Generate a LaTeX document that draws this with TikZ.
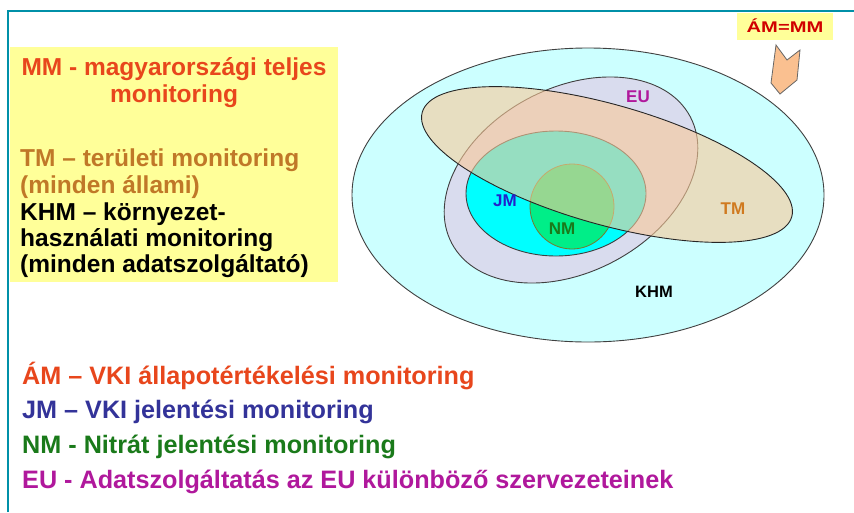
\documentclass[tikz,border=0pt]{standalone}
\usepackage{fontspec}
\setmainfont{Liberation Sans}
\usepackage{graphicx}
\definecolor{frameteal}{HTML}{0090A8}
\definecolor{paleyellow}{HTML}{FFFF99}
\definecolor{mmred}{HTML}{E8461C}
\definecolor{tmbrown}{HTML}{C07828}
\definecolor{jmblue}{HTML}{333399}
\definecolor{nmgreen}{HTML}{1A7A1A}
\definecolor{eupurple}{HTML}{B0189C}
\definecolor{khmfill}{HTML}{CCFFFF}
\definecolor{eufill}{HTML}{D9DCEE}
\definecolor{jmfill}{HTML}{00FFFF}
\definecolor{nmfill}{HTML}{00EE88}
\definecolor{tmfill}{RGB}{250,201,152}
\definecolor{outline}{HTML}{404040}
\definecolor{arrowfill}{HTML}{FAC090}
\definecolor{amred}{HTML}{D00000}
\definecolor{jmlabel}{HTML}{2222CC}
\definecolor{tmlabel}{HTML}{D07A20}
\tikzset{
  bigtext/.style={font=\fontsize{24.5}{27}\selectfont\bfseries, inner sep=0pt},
  bottomtext/.style={font=\fontsize{25.2}{27}\selectfont\bfseries, inner sep=0pt, anchor=base west},
  lbl/.style={font=\fontsize{17}{17}\selectfont\bfseries, inner sep=0pt},
  setshape/.style={draw=outline, line width=0.9pt},
}
\begin{document}
\begin{tikzpicture}[x=1pt,y=-1pt]
\useasboundingbox (0,0) rectangle (854,512);
\fill[white] (0,0) rectangle (854,512);
% frame
\draw[frameteal, line width=2.2pt] (8,512) -- (8,11) -- (854,11);
% left yellow box
\node[fill=paleyellow, minimum width=328pt, minimum height=235pt, anchor=north west, inner sep=0pt] (legendbox) at (10,47) {};
\node[bigtext, text=mmred, anchor=base] (mm1) at (174,75) {MM - magyarországi teljes};
\node[bigtext, text=mmred, anchor=base] (mm2) at (174,102) {monitoring};
\node[bigtext, text=tmbrown, anchor=base west] (tm1) at (20,166) {TM – területi monitoring};
\node[bigtext, text=tmbrown, anchor=base west] (tm2) at (20,193) {(minden állami)};
\node[bigtext, text=black, anchor=base west] (khm1) at (20,220) {KHM – környezet-};
\node[bigtext, text=black, anchor=base west] (khm2) at (20,246) {használati monitoring};
\node[bigtext, text=black, anchor=base west] (khm3) at (20,272) {(minden adatszolgáltató)};
% sets
\draw[setshape, fill=khmfill] (588,195) ellipse [x radius=236pt, y radius=147pt];
\draw[setshape, fill=eufill, rotate around={28:(571,180)}] (571,180) ellipse [x radius=135pt, y radius=92pt];
\draw[setshape, fill=jmfill] (556,193.5) ellipse [x radius=90pt, y radius=62.5pt];
\draw[draw=outline!70!yellow, line width=0.8pt, fill=nmfill] (572,206.5) ellipse [x radius=42pt, y radius=42.5pt];
\draw[setshape, draw=black!85, fill=tmfill, fill opacity=0.6, rotate around={-15.8:(607,164.5)}] (607,164.5) ellipse [x radius=192pt, y radius=60pt];
% labels
\node[lbl, text=eupurple] (eulbl) at (638,97) {EU};
\node[lbl, text=jmlabel] (jmlbl) at (505,201) {JM};
\node[lbl, text=nmgreen] (nmlbl) at (562,229) {NM};
\node[lbl, text=tmlabel] (tmlbl) at (733,209) {TM};
\node[lbl, text=black, font=\fontsize{16.5}{16.5}\selectfont\bfseries] (khmlbl) at (654,292) {KHM};
% AM=MM box and arrow
\node[fill=paleyellow, minimum width=96pt, minimum height=27pt, inner sep=0pt] (ammm) at (785,26) {\scalebox{1.3}[1]{\fontsize{15.5}{15.5}\selectfont\bfseries\color{amred}ÁM=MM}};
\draw[draw=black!60, line width=0.8pt, fill=arrowfill, line join=miter] (776,45) -- (787,60) -- (800,50) -- (797,80) -- (780,94) -- (771,83) -- cycle;
% bottom legend
\node[bottomtext, text=mmred] (amline) at (22,384) {ÁM – VKI állapotértékelési monitoring};
\node[bottomtext, text=jmblue] (jmline) at (22,418) {JM – VKI jelentési monitoring};
\node[bottomtext, text=nmgreen] (nmline) at (22,453) {NM - Nitrát jelentési monitoring};
\node[bottomtext, text=eupurple] (euline) at (22,488) {EU - Adatszolgáltatás az EU különböző szervezeteinek};
\end{tikzpicture}
\end{document}
